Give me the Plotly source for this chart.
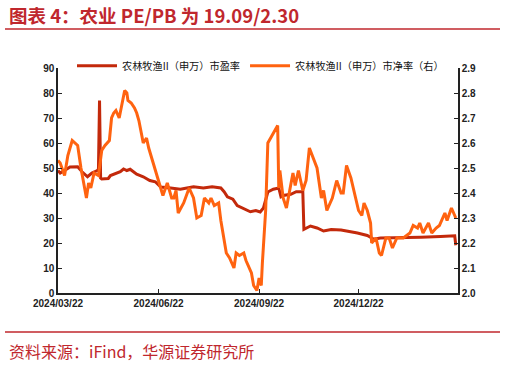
import plotly.graph_objects as go

pe_dates = ["2024-03-22","2024-03-24","2024-03-28","2024-04-02","2024-04-09","2024-04-13","2024-04-18","2024-04-22","2024-04-27","2024-04-28","2024-04-29","2024-04-30","2024-05-01","2024-05-07","2024-05-09","2024-05-14","2024-05-18","2024-05-21","2024-05-24","2024-05-27","2024-06-02","2024-06-08","2024-06-14","2024-06-19","2024-06-24","2024-07-03","2024-07-12","2024-07-18","2024-07-24","2024-08-02","2024-08-10","2024-08-18","2024-08-21","2024-08-24","2024-08-29","2024-09-02","2024-09-07","2024-09-14","2024-09-19","2024-09-23","2024-09-26","2024-09-30","2024-10-05","2024-10-10","2024-10-12","2024-10-14","2024-10-21","2024-10-26","2024-11-01","2024-11-02","2024-11-08","2024-11-14","2024-11-20","2024-11-27","2024-12-06","2024-12-15","2024-12-21","2024-12-30","2025-01-05","2025-01-11","2025-01-25","2025-02-05","2025-02-17","2025-03-07","2025-03-19","2025-03-20","2025-03-21"]
pe_values = [49,48,49,50.4,50.5,48.5,46.5,48,49,49.5,77,46,45.6,45.8,47,48,48.5,49.6,49,49.5,47.5,46.5,45,44.5,42.4,42,41.5,42,42.5,42,42.5,42,40.5,38.5,37.5,35,34,32.5,33,32.4,34,40.4,41.5,42,38.5,39,39.5,40.5,40.5,25.5,26.8,26,24.8,25.4,25.2,24.5,24,23,21.5,22,22,22.2,22.3,22.6,22.8,22.9,19.09]

pb_dates = ["2024-03-22","2024-03-24","2024-03-28","2024-03-31","2024-04-04","2024-04-09","2024-04-12","2024-04-14","2024-04-17","2024-04-19","2024-04-21","2024-04-24","2024-04-28","2024-05-01","2024-05-04","2024-05-08","2024-05-10","2024-05-12","2024-05-14","2024-05-17","2024-05-19","2024-05-22","2024-05-24","2024-05-25","2024-05-28","2024-05-31","2024-06-02","2024-06-04","2024-06-08","2024-06-11","2024-06-13","2024-06-17","2024-06-21","2024-06-26","2024-06-30","2024-07-04","2024-07-06","2024-07-08","2024-07-10","2024-07-15","2024-07-20","2024-07-24","2024-07-27","2024-07-31","2024-08-03","2024-08-07","2024-08-09","2024-08-12","2024-08-16","2024-08-18","2024-08-23","2024-08-26","2024-08-30","2024-09-01","2024-09-04","2024-09-08","2024-09-10","2024-09-15","2024-09-17","2024-09-20","2024-09-22","2024-09-24","2024-09-25","2024-09-28","2024-09-30","2024-10-04","2024-10-09","2024-10-10","2024-10-11","2024-10-14","2024-10-17","2024-10-20","2024-10-23","2024-10-25","2024-10-28","2024-11-01","2024-11-04","2024-11-07","2024-11-11","2024-11-14","2024-11-18","2024-11-20","2024-11-23","2024-11-28","2024-12-02","2024-12-06","2024-12-08","2024-12-11","2024-12-15","2024-12-19","2024-12-22","2024-12-25","2024-12-27","2024-12-30","2025-01-02","2025-01-03","2025-01-07","2025-01-10","2025-01-12","2025-01-16","2025-01-19","2025-01-22","2025-01-26","2025-02-01","2025-02-07","2025-02-10","2025-02-14","2025-02-16","2025-02-19","2025-02-24","2025-02-27","2025-03-03","2025-03-06","2025-03-11","2025-03-13","2025-03-17","2025-03-21"]
pb_values = [2.53,2.52,2.47,2.55,2.61,2.59,2.50,2.45,2.38,2.44,2.42,2.48,2.47,2.57,2.59,2.61,2.70,2.72,2.73,2.70,2.75,2.81,2.80,2.77,2.76,2.74,2.72,2.69,2.60,2.62,2.58,2.52,2.46,2.39,2.44,2.38,2.38,2.41,2.32,2.36,2.42,2.38,2.30,2.31,2.38,2.36,2.38,2.35,2.36,2.29,2.16,2.14,2.10,2.16,2.15,2.16,2.13,2.08,2.03,2.01,2.06,2.03,2.12,2.33,2.60,2.63,2.67,2.42,2.49,2.38,2.34,2.41,2.48,2.43,2.49,2.41,2.45,2.58,2.53,2.50,2.38,2.41,2.33,2.38,2.45,2.40,2.40,2.51,2.46,2.38,2.33,2.31,2.36,2.33,2.28,2.20,2.22,2.16,2.15,2.22,2.22,2.18,2.22,2.22,2.24,2.27,2.26,2.28,2.24,2.28,2.24,2.26,2.27,2.32,2.29,2.34,2.30]

x_ticks = ["2024-03-22","2024-06-22","2024-09-22","2024-12-22"]
x_tick_labels = ["2024/03/22","2024/06/22","2024/09/22","2024/12/22"]

pe_name = "农林牧渔II（申万）市盈率"
pb_name = "农林牧渔II（申万）市净率（右）"
title_text = "图表 4：农业 PE/PB 为 19.09/2.30"
source_text = "资料来源：iFind，华源证券研究所"

RED = "#C0272D"
PE_COLOR = "#C3290B"
PB_COLOR = "#FF6310"
tick_font = dict(family="Liberation Sans, Arial", size=10, color="#222", weight="bold")

fig = go.Figure()
fig.add_trace(go.Scatter(x=pe_dates, y=pe_values, name=pe_name, mode="lines",
                         line=dict(color=PE_COLOR, width=3)))
fig.add_trace(go.Scatter(x=pb_dates, y=pb_values, name=pb_name, mode="lines",
                         line=dict(color=PB_COLOR, width=3), yaxis="y2"))

fig.update_layout(
    width=506, height=366,
    margin=dict(l=58, r=48, t=68, b=73, autoexpand=False),
    paper_bgcolor="white", plot_bgcolor="white",
    showlegend=True,
    legend=dict(orientation="h", x=0.035, y=1.01, xanchor="left", yanchor="middle",
                font=dict(family="Noto Sans CJK SC", size=10.2, color="#111"),
                bgcolor="rgba(0,0,0,0)", itemwidth=40, tracegroupgap=0),
    xaxis=dict(type="date", range=["2024-03-22", "2025-03-23"], automargin=False,
               tickvals=x_ticks, ticktext=x_tick_labels,
               ticks="inside", ticklen=4, tickcolor="#222",
               showline=True, linecolor="#222", linewidth=1.5,
               showgrid=False, zeroline=False, tickfont=tick_font),
    yaxis=dict(range=[0, 90], dtick=10, ticks="inside", ticklen=4, tickcolor="#222",
               automargin=False,
               showline=True, linecolor="#222", linewidth=1.5,
               showgrid=False, zeroline=False, tickfont=tick_font),
    yaxis2=dict(range=[2.0, 2.9], dtick=0.1, tickformat=".1f", overlaying="y", side="right",
                ticks="inside", ticklen=4, tickcolor="#222", automargin=False,
                showline=True, linecolor="#222", linewidth=1.5,
                showgrid=False, zeroline=False, tickfont=tick_font),
    shapes=[
        dict(type="line", xref="paper", yref="paper", x0=-0.1325, x1=1.105, y0=1.173, y1=1.173,
             line=dict(color=RED, width=1.5)),
        dict(type="line", xref="paper", yref="paper", x0=-0.1325, x1=1.105, y0=-0.173, y1=-0.173,
             line=dict(color=RED, width=1.5)),
    ],
    annotations=[
        dict(text=title_text, xref="paper", yref="paper", x=-0.128, y=1.236,
             xanchor="left", yanchor="middle", showarrow=False,
             font=dict(family="Noto Sans CJK SC", size=18.5, color=RED, weight="bold")),
        dict(text=source_text, xref="paper", yref="paper", x=-0.128, y=-0.258,
             xanchor="left", yanchor="middle", showarrow=False,
             font=dict(family="Noto Sans CJK SC", size=16, color=RED)),
    ],
)

fig.write_html("out.html", config={"displayModeBar": False},
               post_script="document.body.style.margin='0';document.body.style.overflow='hidden';")
